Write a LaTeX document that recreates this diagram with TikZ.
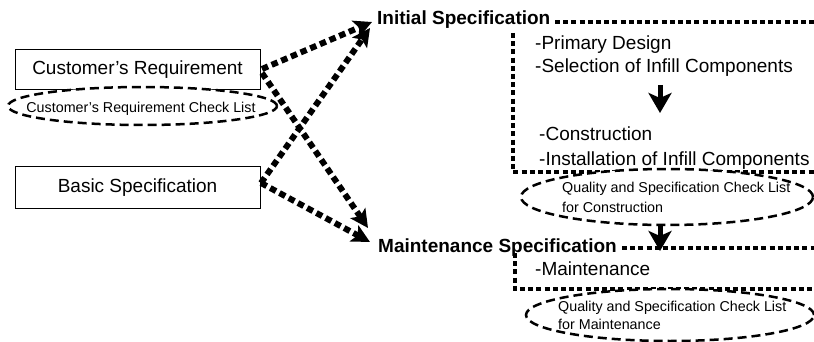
\documentclass[tikz,border=0pt]{standalone}
\usepackage{fontspec}
\setmainfont{Liberation Sans}
\usetikzlibrary{arrows.meta,shapes.geometric}
\begin{document}
\begin{tikzpicture}[x=1pt,y=-1pt,
  bigtxt/.style={font=\fontsize{19}{23}\selectfont, inner sep=0pt, anchor=base west},
  boldtxt/.style={font=\fontsize{19}{23}\selectfont\bfseries, inner sep=0pt, anchor=base west},
  smalltxt/.style={font=\fontsize{14.3}{18}\selectfont, inner sep=0pt, anchor=base west},
  plainbox/.style={draw, line width=1pt, minimum width=245pt, minimum height=40pt, inner sep=0pt, font=\fontsize{19}{23}\selectfont},
  checkell/.style={ellipse, draw, line width=2.5pt, dash pattern=on 9pt off 5pt, fill=white, inner sep=0pt},
  flowarrow/.style={line width=6pt, dash pattern=on 6.5pt off 4pt, -{Stealth[length=18pt,width=18pt,inset=4pt]}},
  boxline/.style={line width=4.2pt, dash pattern=on 5pt off 3.2pt},
  steparrow/.style={line width=5pt, -{Stealth[length=20pt,width=23pt,inset=5pt]}}
]
\fill[white] (0,0) rectangle (814,342);
\useasboundingbox (0,0) rectangle (814,342);

% left boxes
\node[plainbox] (cust) at (137.5,70) {Customer’s Requirement};
\node[plainbox, minimum height=41pt] (basic) at (137.5,187.5) {Basic Specification};
\node[checkell, minimum width=269pt, minimum height=38pt] (custcl) at (142.5,106) {};
\node[smalltxt, anchor=base] (custcltxt) at (141,113) {Customer’s Requirement Check List};

% specification headings
\node[boldtxt] (init) at (377,25) {Initial Specification};
\node[boldtxt] (maint) at (378,252) {Maintenance Specification};

% arrow targets
\coordinate (t1) at (372,22);
\coordinate (t2) at (368,228);
\coordinate (t3) at (370,28);
\coordinate (t4) at (370,242);
\coordinate (s1) at (262,69);
\coordinate (s2) at (262,73);
\coordinate (s3) at (261,183);

\draw[flowarrow] (s1) -- (t1);
\draw[flowarrow] (s2) -- (t2);
\draw[flowarrow] (s3) -- (t3);
\draw[flowarrow] (s3) -- (t4);

% initial specification frame
\coordinate (ia) at (555,22);
\coordinate (ib) at (814,22);
\coordinate (ic) at (513,33);
\coordinate (id) at (513,172);
\coordinate (ie) at (814,172);
\draw[boxline] (ia) -- (ib);
\draw[boxline] (ic) -- (id) -- (ie);

\node[bigtxt] (l1) at (535,50) {-Primary Design};
\node[bigtxt] (l2) at (535,73) {-Selection of Infill Components};
\node[bigtxt] (l3) at (539,141) {-Construction};
\node[bigtxt] (l4) at (539,165) {-Installation of Infill Components};

\coordinate (a1s) at (660,85);
\coordinate (a1t) at (660,113);
\draw[steparrow] (a1s) -- (a1t);

% maintenance specification frame
\coordinate (ma) at (622,248);
\coordinate (mb) at (814,248);
\coordinate (mc) at (515,253);
\coordinate (md) at (515,289);
\coordinate (me) at (814,289);
\draw[boxline] (ma) -- (mb);
\draw[boxline] (mc) -- (md) -- (me);

\node[bigtxt] (l5) at (535,275) {-Maintenance};

% check list ellipses
\node[checkell, minimum width=292pt, minimum height=56pt] (constrcl) at (667,197) {};
\node[smalltxt] (c1) at (562,192) {Quality and Specification Check List};
\node[smalltxt] (c2) at (562,212) {for Construction};

\node[checkell, minimum width=288pt, minimum height=52pt] (maintcl) at (670,315) {};
\node[smalltxt] (m1) at (558,311) {Quality and Specification Check List};
\node[smalltxt] (m2) at (558,329) {for Maintenance};

\coordinate (a2t) at (660,251);
\draw[steparrow] (constrcl.south -| a2t) -- (a2t);
\end{tikzpicture}
\end{document}
